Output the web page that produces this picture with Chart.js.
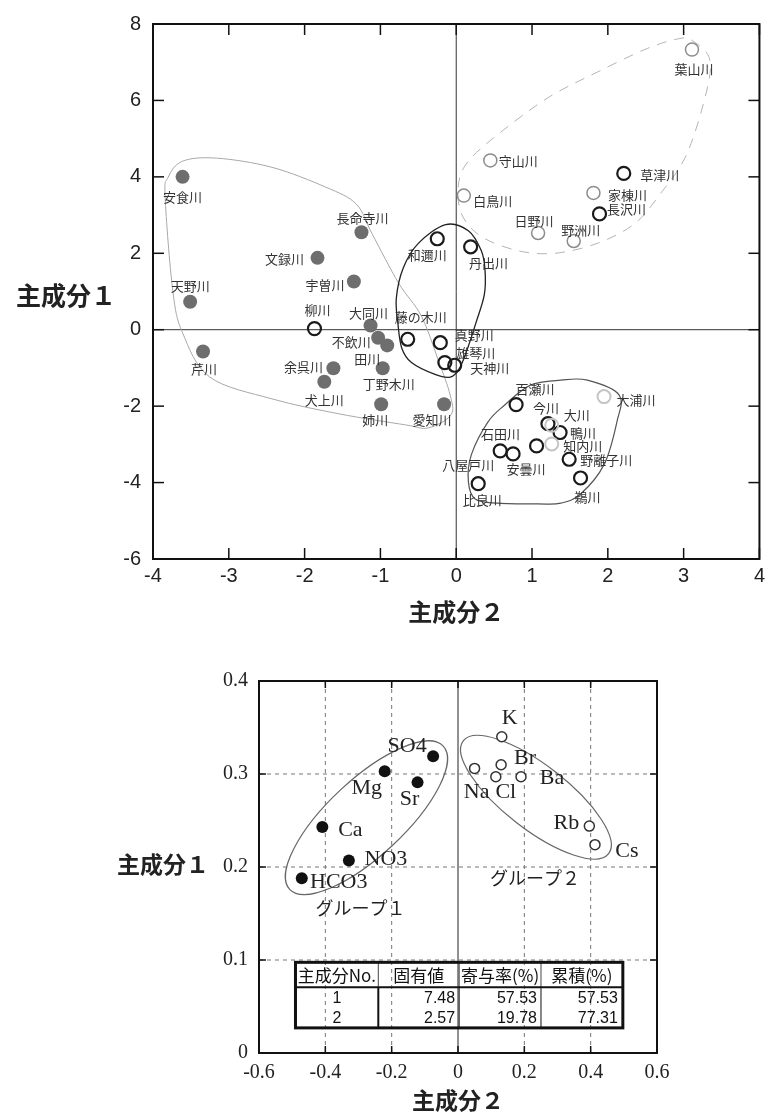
<!DOCTYPE html>
<html>
<head>
<meta charset="utf-8">
<script src="https://cdn.jsdelivr.net/npm/chart.js@4"></script>
<style>
  html, body { margin: 0; padding: 0; background: #fff; }
  #wrap { position: relative; width: 770px; height: 1118px; overflow: hidden; }
  canvas { position: absolute; left: 0; }
  #scores { top: 0; }
  #loadings { top: 640px; }
</style>
</head>
<body>
<div id="wrap">
  <canvas id="scores" width="770" height="640"></canvas>
  <canvas id="loadings" width="770" height="478"></canvas>
</div>
<script>
// ---- 主成分得点（河川）  x = 主成分2, y = 主成分1 ----
const filledNames = ['安食川','長命寺川','文録川','宇曽川','天野川','芹川','大同川','不飲川','田川','余呉川','犬上川','丁野木川','姉川','愛知川'];
const filledPc2   = [-3.61, -1.25, -1.83, -1.35, -3.51, -3.34, -1.13, -1.03, -0.91, -1.62, -1.74, -0.97, -0.99, -0.16];
const filledPc1   = [ 4.00,  2.55,  1.88,  1.26,  0.73, -0.57,  0.11, -0.21, -0.41, -1.01, -1.36, -1.01, -1.95, -1.95];

const openNames = ['柳川','藤の木川','真野川','雄琴川','天神川','和邇川','丹出川','長沢川','草津川','百瀬川','今川','鴨川','石田川','八屋戸川','安曇川','野離子川','鵜川','比良川'];
const openPc2   = [-1.87, -0.64, -0.21, -0.15, -0.02, -0.25,  0.19,  1.89,  2.21,  0.79,  1.21,  1.37,  1.06,  0.58,  0.75,  1.49,  1.64,  0.29];
const openPc1   = [ 0.03, -0.25, -0.34, -0.86, -0.93,  2.38,  2.17,  3.03,  4.09, -1.96, -2.46, -2.69, -3.04, -3.17, -3.25, -3.39, -3.88, -4.03];

const greyNames = ['葉山川','守山川','白鳥川','日野川','野洲川','家棟川'];
const greyPc2   = [3.11, 0.45, 0.10, 1.08, 1.55, 1.81];
const greyPc1   = [7.33, 4.43, 3.51, 2.53, 2.32, 3.58];

const paleNames = ['大浦川','大川','知内川'];
const palePc2   = [ 1.95,  1.26,  1.26];
const palePc1   = [-1.75, -2.50, -2.99];

const scoreXTicks = [-4, -3, -2, -1, 0, 1, 2, 3, 4];
const scoreYTicks = [-6, -4, -2, 0, 2, 4, 6, 8];

// group outlines, in score units (主成分2, 主成分1)
const outlineWest = [[-3.80,3.99],[-3.84,3.47],[-3.74,1.04],[-3.61,-0.08],[-3.25,-1.24],[-2.43,-1.81],[-1.55,-2.20],[-0.67,-2.49],[-0.37,-2.57],[-0.07,-2.23],[-0.08,-1.71],[-0.24,-0.78],[-0.46,0.36],[-0.76,1.22],[-1.11,2.51],[-1.32,3.29],[-1.72,3.73],[-2.43,4.25],[-3.16,4.49],[-3.61,4.41]];
const outlineCentre = [[-0.14,2.75],[0.16,2.59],[0.33,2.07],[0.38,1.56],[0.37,0.91],[0.26,0.18],[0.13,-0.60],[0.03,-1.06],[-0.08,-1.24],[-0.28,-1.17],[-0.59,-0.86],[-0.72,-0.47],[-0.77,0.18],[-0.79,0.83],[-0.70,1.61],[-0.50,2.26]];
const outlineNorth = [[3.11,7.57],[3.34,7.10],[3.30,6.22],[3.04,4.59],[2.69,3.55],[2.35,2.77],[1.86,2.26],[1.30,2.00],[0.81,2.07],[0.33,2.44],[0.07,3.03],[0.03,3.81],[0.16,4.41],[0.55,5.11],[1.21,6.07],[1.86,6.74],[2.52,7.36],[2.95,7.62]];
const outlineSouth = [[1.73,-1.32],[2.15,-1.71],[2.12,-2.41],[1.95,-3.53],[1.64,-4.30],[1.38,-4.54],[1.08,-4.56],[0.55,-4.54],[0.25,-4.43],[0.16,-3.97],[0.20,-3.27],[0.42,-2.41],[0.64,-1.97],[0.98,-1.45],[1.38,-1.32]];

// ---- 主成分負荷量（成分） ----
const ionGroup1    = ['SO4','Mg','Sr','Ca','NO3','HCO3'];
const ionGroup1Pc2 = [-0.075, -0.221, -0.122, -0.409, -0.329, -0.471];
const ionGroup1Pc1 = [ 0.319,  0.303,  0.291,  0.243,  0.207,  0.188];

const ionGroup2    = ['K','Br','Na','Cl','Ba','Rb','Cs'];
const ionGroup2Pc2 = [0.132, 0.130, 0.050, 0.114, 0.190, 0.396, 0.413];
const ionGroup2Pc1 = [0.340, 0.310, 0.306, 0.297, 0.297, 0.244, 0.224];

const loadXTicks = [-0.6, -0.4, -0.2, 0, 0.2, 0.4, 0.6];
const loadYTicks = [0, 0.1, 0.2, 0.3, 0.4];

// 固有値表
const eigenHeader     = ['主成分No.', '固有値', '寄与率(%)', '累積(%)'];
const eigenComponent  = ['1', '2'];
const eigenValue      = ['7.48', '2.57'];
const eigenRatio      = ['57.53', '19.78'];
const eigenCumulative = ['57.53', '77.31'];

// ---- label placement (pixel offsets from each marker) ----
const scoreLabelOffset = {
  '安食川':[0,20], '長命寺川':[1,-14], '文録川':[-33,1], '宇曽川':[-29,3], '天野川':[0,-16], '芹川':[1,18],
  '大同川':[-2,-12], '不飲川':[-27,4], '田川':[-20,14], '余呉川':[-30,-1], '犬上川':[0,18], '丁野木川':[6,16],
  '姉川':[-6,16], '愛知川':[-12,16], '柳川':[3,-19], '藤の木川':[13,-22], '真野川':[34,-8], '雄琴川':[31,-10],
  '天神川':[35,3], '和邇川':[-10,16], '丹出川':[18,16], '長沢川':[27,-5], '草津川':[36,2], '百瀬川':[19,-16],
  '今川':[-2,-16], '鴨川':[23,1], '石田川':[-36,-12], '八屋戸川':[-32,14], '安曇川':[13,15], '野離子川':[37,1],
  '鵜川':[7,19], '比良川':[4,16], '葉山川':[2,19], '守山川':[28,1], '白鳥川':[29,5], '日野川':[-4,-12],
  '野洲川':[7,-11], '家棟川':[34,2], '大浦川':[32,3], '大川':[25,-10], '知内川':[31,2]
};
const ionLabelOffset = {
  'SO4':[-26,-10], 'Mg':[-18,17], 'Sr':[-8,17], 'Ca':[28,3], 'NO3':[37,-1], 'HCO3':[37,4],
  'K':[8,-19], 'Br':[24,-6], 'Ba':[31,1], 'Na':[2,24], 'Cl':[10,15], 'Rb':[-23,-3], 'Cs':[32,7]
};

const JP = '"Noto Sans CJK JP", "Noto Sans", sans-serif';
const SANS = '"Liberation Sans", Arial, sans-serif';
const SERIF = '"Liberation Serif", "Times New Roman", serif';

function toPoints(xs, ys) { return xs.map((v, i) => ({ x: v, y: ys[i] })); }

function closedSpline(ctx, pts) {
  const n = pts.length;
  ctx.beginPath();
  ctx.moveTo(pts[0][0], pts[0][1]);
  for (let i = 0; i < n; i++) {
    const p0 = pts[(i - 1 + n) % n], p1 = pts[i], p2 = pts[(i + 1) % n], p3 = pts[(i + 2) % n];
    ctx.bezierCurveTo(
      p1[0] + (p2[0] - p0[0]) / 6, p1[1] + (p2[1] - p0[1]) / 6,
      p2[0] - (p3[0] - p1[0]) / 6, p2[1] - (p3[1] - p1[1]) / 6,
      p2[0], p2[1]);
  }
  ctx.closePath();
}

function seg(ctx, x1, y1, x2, y2) { ctx.beginPath(); ctx.moveTo(x1, y1); ctx.lineTo(x2, y2); ctx.stroke(); }

function frameAndTicks(chart, len, width) {
  const { ctx, chartArea: a, scales: { x, y } } = chart;
  ctx.save();
  ctx.strokeStyle = '#111';
  ctx.lineWidth = 1.5;
  x.ticks.forEach(t => {
    const p = x.getPixelForValue(t.value);
    seg(ctx, p, a.bottom, p, a.bottom - len);
    seg(ctx, p, a.top, p, a.top + len);
  });
  y.ticks.forEach(t => {
    const p = y.getPixelForValue(t.value);
    seg(ctx, a.left, p, a.left + len, p);
    seg(ctx, a.right, p, a.right - len, p);
  });
  ctx.lineWidth = width;
  ctx.strokeRect(a.left, a.top, a.right - a.left, a.bottom - a.top);
  ctx.restore();
}

// ---- score chart decorations ----
const scoreDecor = {
  id: 'scoreDecor',
  beforeDatasetsDraw(chart) {
    const { ctx, chartArea: a, scales: { x, y } } = chart;
    const toPx = p => [x.getPixelForValue(p[0]), y.getPixelForValue(p[1])];
    ctx.save();
    ctx.strokeStyle = '#333';
    ctx.lineWidth = 1;
    const x0 = x.getPixelForValue(0), y0 = y.getPixelForValue(0);
    seg(ctx, x0, a.top, x0, a.bottom);
    seg(ctx, a.left, y0, a.right, y0);

    const outlines = [
      { pts: outlineWest,   color: '#a8a8a8', width: 1,   dash: [] },
      { pts: outlineCentre, color: '#222',    width: 1.3, dash: [] },
      { pts: outlineNorth,  color: '#b4b4b4', width: 1,   dash: [10, 8] },
      { pts: outlineSouth,  color: '#555',    width: 1.2, dash: [] }
    ];
    outlines.forEach(o => {
      ctx.strokeStyle = o.color;
      ctx.lineWidth = o.width;
      ctx.setLineDash(o.dash);
      closedSpline(ctx, o.pts.map(toPx));
      ctx.stroke();
    });
    ctx.restore();
  },
  afterDatasetsDraw(chart) {
    const { ctx, scales: { x, y } } = chart;
    frameAndTicks(chart, 11, 2);
    ctx.save();
    ctx.fillStyle = '#333';
    ctx.font = '13px ' + JP;
    ctx.textAlign = 'center';
    ctx.textBaseline = 'middle';
    const groups = [[filledNames, filledPc2, filledPc1], [openNames, openPc2, openPc1], [greyNames, greyPc2, greyPc1], [paleNames, palePc2, palePc1]];
    groups.forEach(([names, xs, ys]) => {
      names.forEach((n, i) => {
        const off = scoreLabelOffset[n] || [0, 16];
        ctx.fillText(n, x.getPixelForValue(xs[i]) + off[0], y.getPixelForValue(ys[i]) + off[1]);
      });
    });
    // horizontal y-axis title
    ctx.fillStyle = '#222';
    ctx.font = 'bold 25px ' + JP;
    ctx.fillText('主成分１', 66, 295);
    ctx.restore();
  }
};

new Chart(document.getElementById('scores'), {
  type: 'scatter',
  data: {
    datasets: [
      { data: toPoints(filledPc2, filledPc1), pointRadius: 7, pointHoverRadius: 7, pointBackgroundColor: '#6e6e6e', pointBorderColor: '#6e6e6e', pointBorderWidth: 0 },
      { data: toPoints(greyPc2, greyPc1), pointRadius: 6.5, pointHoverRadius: 6.5, pointBackgroundColor: 'rgba(0,0,0,0)', pointBorderColor: '#8c8c8c', pointBorderWidth: 1.5 },
      { data: toPoints(palePc2, palePc1), pointRadius: 6.5, pointHoverRadius: 6.5, pointBackgroundColor: 'rgba(0,0,0,0)', pointBorderColor: '#c4c4c4', pointBorderWidth: 2 },
      { data: toPoints(openPc2, openPc1), pointRadius: 6.5, pointHoverRadius: 6.5, pointBackgroundColor: 'rgba(0,0,0,0)', pointBorderColor: '#1a1a1a', pointBorderWidth: 2.2 }
    ]
  },
  options: {
    responsive: false,
    animation: false,
    devicePixelRatio: 1,
    layout: { padding: { top: 19, right: 7, left: 0, bottom: 0 } },
    plugins: { legend: { display: false }, tooltip: { enabled: false } },
    scales: {
      x: {
        type: 'linear', position: 'bottom', min: -4, max: 4,
        afterBuildTicks: s => { s.ticks = scoreXTicks.map(v => ({ value: v })); },
        ticks: { color: '#222', font: { family: SANS, size: 20 }, padding: 5, autoSkip: false, maxRotation: 0 },
        grid: { display: false, drawTicks: false },
        border: { display: false },
        title: { display: true, text: '主成分２', color: '#222', font: { family: JP, size: 24, weight: 'bold' }, padding: { top: 0, bottom: 14 } },
        afterFit: s => { s.height = 81; }
      },
      y: {
        type: 'linear', position: 'left', min: -6, max: 8,
        afterBuildTicks: s => { s.ticks = scoreYTicks.map(v => ({ value: v })); },
        ticks: { color: '#222', font: { family: SANS, size: 20 }, padding: 12, autoSkip: false },
        grid: { display: false, drawTicks: false },
        border: { display: false },
        afterFit: s => { s.width = 153; }
      }
    }
  },
  plugins: [scoreDecor]
});

// ---- loading chart decorations ----
const loadDecor = {
  id: 'loadDecor',
  beforeDatasetsDraw(chart) {
    const { ctx, chartArea: a, scales: { x, y } } = chart;
    ctx.save();
    ctx.strokeStyle = '#777';
    ctx.lineWidth = 1;
    ctx.setLineDash([4, 4]);
    x.ticks.forEach(t => {
      if (t.value === 0 || t.value <= x.min || t.value >= x.max) return;
      const p = x.getPixelForValue(t.value);
      seg(ctx, p, a.top, p, a.bottom);
    });
    y.ticks.forEach(t => {
      if (t.value <= y.min || t.value >= y.max) return;
      const p = y.getPixelForValue(t.value);
      seg(ctx, a.left, p, a.right, p);
    });
    ctx.setLineDash([]);
    ctx.strokeStyle = '#222';
    const x0 = x.getPixelForValue(0);
    seg(ctx, x0, a.top, x0, a.bottom);

    // group ellipses
    ctx.strokeStyle = '#666';
    ctx.lineWidth = 1.2;
    const ellipses = [
      { cx: -0.276, cy: 0.253, rx: 105, ry: 38, rot: -43 },
      { cx: 0.235,  cy: 0.275, rx: 92,  ry: 32, rot: 37.8 }
    ];
    ellipses.forEach(e => {
      ctx.beginPath();
      ctx.ellipse(x.getPixelForValue(e.cx), y.getPixelForValue(e.cy), e.rx, e.ry, e.rot * Math.PI / 180, 0, Math.PI * 2);
      ctx.stroke();
    });
    ctx.restore();
  },
  afterDatasetsDraw(chart) {
    const { ctx, scales: { x, y } } = chart;
    frameAndTicks(chart, 7, 2);
    ctx.save();
    ctx.fillStyle = '#222';
    ctx.textAlign = 'center';
    ctx.textBaseline = 'middle';
    ctx.font = '22px ' + SERIF;
    [[ionGroup1, ionGroup1Pc2, ionGroup1Pc1], [ionGroup2, ionGroup2Pc2, ionGroup2Pc1]].forEach(([names, xs, ys]) => {
      names.forEach((n, i) => {
        const off = ionLabelOffset[n];
        ctx.fillText(n, x.getPixelForValue(xs[i]) + off[0], y.getPixelForValue(ys[i]) + off[1]);
      });
    });
    ctx.font = '18px ' + JP;
    ctx.fillText('グループ１', x.getPixelForValue(-0.294), y.getPixelForValue(0.156));
    ctx.fillText('グループ２', x.getPixelForValue(0.232), y.getPixelForValue(0.188));

    // 固有値表
    const L = x.getPixelForValue(-0.49), R = x.getPixelForValue(0.497);
    const T = y.getPixelForValue(0.0975), B = y.getPixelForValue(0.027);
    const W = R - L, H = B - T;
    const cols = [0, 0.253, 0.5, 0.75, 1].map(f => L + f * W);
    const rows = [0, 0.379, 0.682, 1].map(f => T + f * H);
    ctx.strokeStyle = '#111';
    ctx.lineWidth = 1;
    for (let c = 1; c < 4; c++) {
      ctx.lineWidth = c === 1 ? 2 : 1;
      seg(ctx, cols[c], rows[1], cols[c], B);
      ctx.lineWidth = 1;
      ctx.strokeStyle = '#444';
      seg(ctx, cols[c], T, cols[c], rows[1]);
      ctx.strokeStyle = '#111';
    }
    ctx.lineWidth = 2;
    seg(ctx, L, rows[1], R, rows[1]);
    ctx.lineWidth = 3;
    ctx.strokeRect(L, T, W, H);

    ctx.fillStyle = '#111';
    ctx.font = '17px ' + JP;
    ctx.textAlign = 'center';
    eigenHeader.forEach((h, c) => ctx.fillText(h, (cols[c] + cols[c + 1]) / 2, (rows[0] + rows[1]) / 2 + 1));
    ctx.font = '16px ' + SANS;
    eigenComponent.forEach((v, r) => {
      const cy = (rows[r + 1] + rows[r + 2]) / 2 + 1;
      ctx.textAlign = 'center';
      ctx.fillText(v, (cols[0] + cols[1]) / 2, cy);
      ctx.textAlign = 'right';
      ctx.fillText(eigenValue[r], cols[2] - 4, cy);
      ctx.fillText(eigenRatio[r], cols[3] - 4, cy);
      ctx.fillText(eigenCumulative[r], cols[4] - 5, cy);
    });

    // horizontal y-axis title
    ctx.textAlign = 'center';
    ctx.fillStyle = '#222';
    ctx.font = 'bold 23px ' + JP;
    ctx.fillText('主成分１', 163, 224);
    ctx.restore();
  }
};

const fmt = v => (Math.abs(v) < 1e-9 ? '0' : Number(v).toFixed(1));

new Chart(document.getElementById('loadings'), {
  type: 'scatter',
  data: {
    datasets: [
      { data: toPoints(ionGroup1Pc2, ionGroup1Pc1), pointRadius: 6, pointHoverRadius: 6, pointBackgroundColor: '#111', pointBorderColor: '#111', pointBorderWidth: 0 },
      { data: toPoints(ionGroup2Pc2, ionGroup2Pc1), pointRadius: 5, pointHoverRadius: 5, pointBackgroundColor: '#fff', pointBorderColor: '#333', pointBorderWidth: 1.5 }
    ]
  },
  options: {
    responsive: false,
    animation: false,
    devicePixelRatio: 1,
    layout: { padding: { top: 41, right: 113, left: 0, bottom: 0 } },
    plugins: { legend: { display: false }, tooltip: { enabled: false } },
    scales: {
      x: {
        type: 'linear', position: 'bottom', min: -0.6, max: 0.6,
        afterBuildTicks: s => { s.ticks = loadXTicks.map(v => ({ value: v })); },
        ticks: { color: '#222', font: { family: SERIF, size: 20 }, padding: 8, autoSkip: false, maxRotation: 0, callback: fmt },
        grid: { display: false, drawTicks: false },
        border: { display: false },
        title: { display: true, text: '主成分２', color: '#222', font: { family: JP, size: 23, weight: 'bold' }, padding: { top: 0, bottom: 4 } },
        afterFit: s => { s.height = 65; }
      },
      y: {
        type: 'linear', position: 'left', min: 0, max: 0.4,
        afterBuildTicks: s => { s.ticks = loadYTicks.map(v => ({ value: v })); },
        ticks: { color: '#222', font: { family: SERIF, size: 20 }, padding: 11, autoSkip: false, callback: fmt },
        grid: { display: false, drawTicks: false },
        border: { display: false },
        afterFit: s => { s.width = 259; }
      }
    }
  },
  plugins: [loadDecor]
});
</script>
</body>
</html>
